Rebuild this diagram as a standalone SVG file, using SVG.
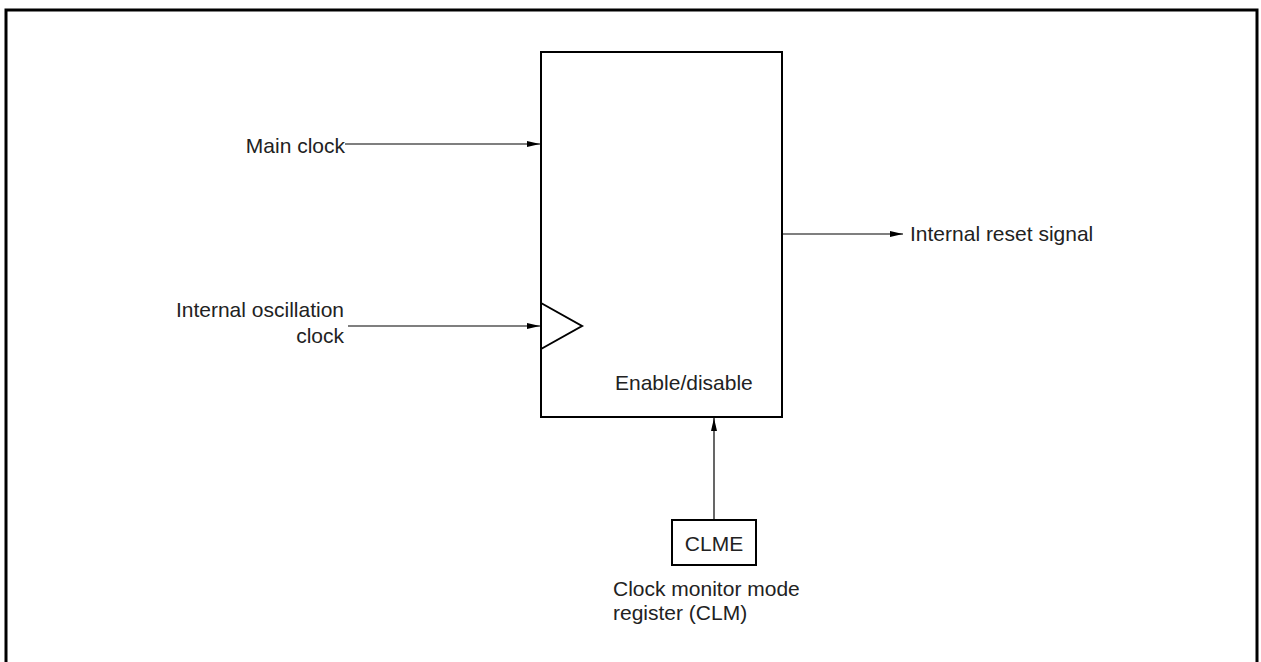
<svg xmlns="http://www.w3.org/2000/svg" width="1261" height="662" viewBox="0 0 1261 662">
<style>
.lbl{font-family:"Liberation Sans",Arial,sans-serif;font-size:21px;fill:#222}
.box{fill:#fff;stroke:#000;stroke-width:2}
.wire{stroke:#000;stroke-width:1.2;fill:none}
</style>
<defs>
<marker id="ah" viewBox="0 0 13 6" refX="13" refY="3" markerWidth="13" markerHeight="6" markerUnits="userSpaceOnUse" orient="auto">
<path d="M0,0 L13,3 L0,6 z" fill="#000"/>
</marker>
</defs>
<rect width="1261" height="662" fill="#fff"/>
<path d="M6,662 L6,10 L1257,10 L1257,662" fill="none" stroke="#000" stroke-width="3"/>
<g id="monitor">
<rect class="box" x="541" y="52" width="241" height="365"/>
<polyline points="541,303 582,326 541,349" fill="none" stroke="#000" stroke-width="2"/>
<text class="lbl" x="615" y="390">Enable/disable</text>
</g>
<g id="clme">
<rect class="box" x="672" y="520" width="84" height="45"/>
<text class="lbl" x="714" y="551" text-anchor="middle">CLME</text>
<text class="lbl" x="613" y="596">Clock monitor mode</text>
<text class="lbl" x="613" y="620">register (CLM)</text>
</g>
<g id="main-clock">
<text class="lbl" x="345" y="153" text-anchor="end">Main clock</text>
</g>
<g id="osc-clock">
<text class="lbl" x="344" y="317" text-anchor="end">Internal oscillation</text>
<text class="lbl" x="344" y="343" text-anchor="end">clock</text>
</g>
<g id="reset">
<text class="lbl" x="910" y="241">Internal reset signal</text>
</g>
<g id="connectors">
<line class="wire" x1="345" y1="144" x2="540" y2="144" marker-end="url(#ah)"/>
<line class="wire" x1="348" y1="326" x2="540" y2="326" marker-end="url(#ah)"/>
<line class="wire" x1="783" y1="234" x2="903" y2="234" marker-end="url(#ah)"/>
<line class="wire" x1="714" y1="519" x2="714" y2="418" marker-end="url(#ah)"/>
</g>
</svg>
